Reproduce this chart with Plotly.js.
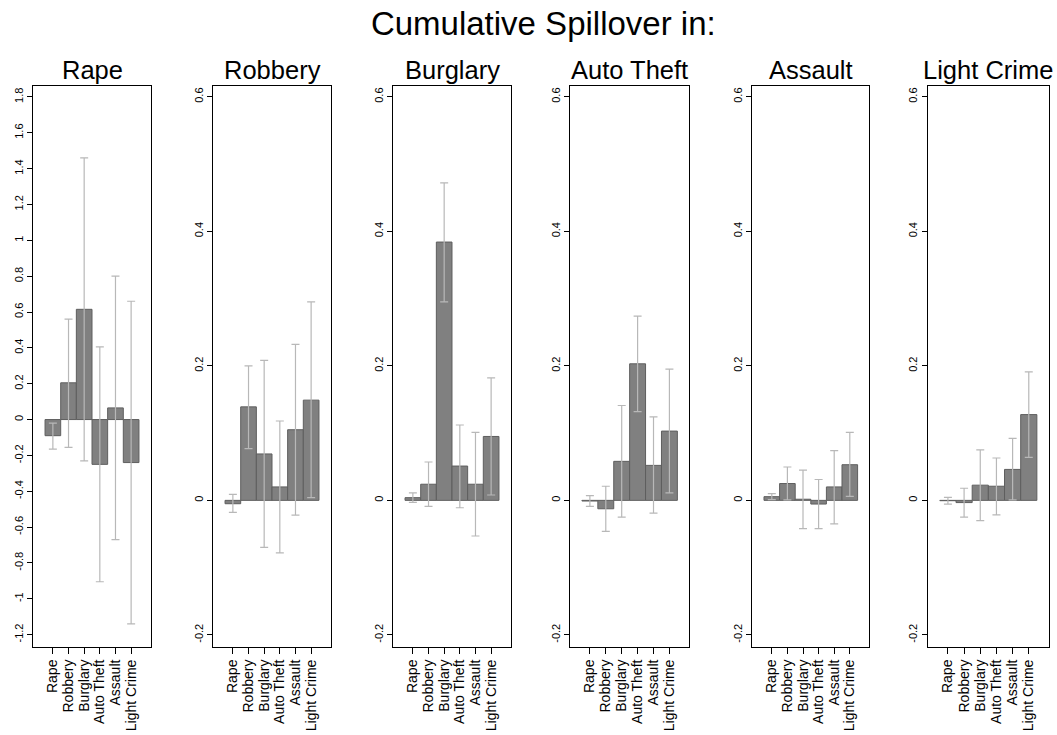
<!DOCTYPE html>
<html>
<head>
<meta charset="utf-8">
<script src="https://cdn.plot.ly/plotly-3.0.1.min.js"></script>
<style>html,body{margin:0;padding:0;background:#fff;}#chart{width:1057px;height:735px;}</style>
</head>
<body>
<div id="chart"></div>
<script>
// Categories (x axis of every panel)
const categories = ["Rape", "Robbery", "Burglary", "Auto Theft", "Assault", "Light Crime"];
// Panel titles
const panelTitles = ["Rape", "Robbery", "Burglary", "Auto Theft", "Assault", "Light Crime"];

// Panel 1: Rape
const est_rape = [-0.09, 0.205, 0.615, -0.25, 0.065, -0.24];
const lo_rape  = [-0.165, -0.155, -0.23, -0.905, -0.67, -1.14];
const hi_rape  = [-0.02, 0.56, 1.46, 0.405, 0.80, 0.66];
// Panel 2: Robbery
const est_robbery = [-0.005, 0.139, 0.069, 0.020, 0.105, 0.149];
const lo_robbery  = [-0.018, 0.077, -0.070, -0.078, -0.022, 0.004];
const hi_robbery  = [0.009, 0.200, 0.208, 0.118, 0.232, 0.295];
// Panel 3: Burglary
const est_burglary = [0.004, 0.024, 0.384, 0.051, 0.024, 0.095];
const lo_burglary  = [-0.003, -0.009, 0.295, -0.011, -0.053, 0.008];
const hi_burglary  = [0.011, 0.057, 0.472, 0.112, 0.101, 0.182];
// Panel 4: Auto Theft
const est_auto = [-0.001, -0.0125, 0.058, 0.203, 0.052, 0.103];
const lo_auto  = [-0.009, -0.046, -0.025, 0.132, -0.019, 0.011];
const hi_auto  = [0.007, 0.021, 0.141, 0.274, 0.124, 0.195];
// Panel 5: Assault
const est_assault = [0.0055, 0.025, 0.0017, -0.0055, 0.020, 0.053];
const lo_assault  = [0.001, 0.0006, -0.042, -0.042, -0.035, 0.006];
const hi_assault  = [0.010, 0.0496, 0.045, 0.031, 0.074, 0.101];
// Panel 6: Light Crime
const est_light = [-0.0005, -0.0033, 0.0226, 0.021, 0.046, 0.1275];
const lo_light  = [-0.0055, -0.025, -0.030, -0.0215, 0.0006, 0.064];
const hi_light  = [0.0044, 0.018, 0.075, 0.063, 0.092, 0.191];

// Y tick labels
const ticks_p1 = [1.8, 1.6, 1.4, 1.2, 1, 0.8, 0.6, 0.4, 0.2, 0, -0.2, -0.4, -0.6, -0.8, -1, -1.2];
const ticks_other = [0.6, 0.4, 0.2, 0, -0.2];

const panels = [
  {est: est_rape, lo: lo_rape, hi: hi_rape},
  {est: est_robbery, lo: lo_robbery, hi: hi_robbery},
  {est: est_burglary, lo: lo_burglary, hi: hi_burglary},
  {est: est_auto, lo: lo_auto, hi: hi_auto},
  {est: est_assault, lo: lo_assault, hi: hi_assault},
  {est: est_light, lo: lo_light, hi: hi_light}
];

const W = 1057;
const boxes = [[33.3, 150.7], [213.3, 330.7], [393.3, 510.7], [570, 689.3], [752.3, 869.3], [927.7, 1049]];

const FONT = "Liberation Sans, Arial, Helvetica, sans-serif";
const data = [];
const layout = {
  width: 1057, height: 735,
  margin: {l: 0, r: 0, t: 86, b: 88},
  paper_bgcolor: "#ffffff", plot_bgcolor: "#ffffff",
  showlegend: false,
  bargap: 0,
  font: {family: FONT, color: "#000"},
  title: {text: "Cumulative Spillover in:", font: {family: FONT, size: 33, color: "#000"},
          x: 0.514, xanchor: "center", y: 0.968, yanchor: "middle", yref: "container"},
  annotations: []
};

const fmt = v => String(v);

panels.forEach((p, i) => {
  const n = i + 1;
  const xa = n === 1 ? "x" : "x" + n;
  const ya = n === 1 ? "y" : "y" + n;
  data.push({
    type: "bar",
    x: categories,
    y: p.est,
    xaxis: xa, yaxis: ya,
    width: 1,
    marker: {color: "#808080", line: {color: "#5e5e5e", width: 1}},
    error_y: {
      type: "data", symmetric: false,
      array: p.hi.map((h, k) => h - p.est[k]),
      arrayminus: p.lo.map((l, k) => p.est[k] - l),
      color: "#b8b8b8", thickness: 1.2, width: 4
    },
    hoverinfo: "skip"
  });
  const tv = n === 1 ? ticks_p1 : ticks_other;
  const range = n === 1 ? [-1.269, 1.861] : [-0.218, 0.616];
  layout[n === 1 ? "xaxis" : "xaxis" + n] = {
    domain: [boxes[i][0] / W, boxes[i][1] / W],
    anchor: ya,
    type: "category",
    range: [-1.25, 6.25],
    tickmode: "array",
    tickvals: categories,
    ticktext: categories,
    showline: true, mirror: true, linecolor: "#000", linewidth: 1,
    ticks: "outside", ticklen: 6, tickcolor: "#000", tickwidth: 1,
    tickangle: -90,
    tickfont: {family: FONT, size: 14, color: "#000"},
    showgrid: false, zeroline: false, fixedrange: true
  };
  layout[n === 1 ? "yaxis" : "yaxis" + n] = {
    domain: [0, 1],
    anchor: xa,
    range: range,
    tickmode: "array",
    tickvals: tv,
    ticktext: tv.map(fmt),
    showline: true, mirror: true, linecolor: "#000", linewidth: 1,
    ticks: "outside", ticklen: 5, tickcolor: "#000", tickwidth: 1,
    tickangle: -90,
    tickfont: {family: FONT, size: 11, color: "#000"},
    showgrid: false, zeroline: false, fixedrange: true
  };
  layout.annotations.push({
    text: panelTitles[i],
    xref: "paper", yref: "paper",
    x: (boxes[i][0] + boxes[i][1]) / 2 / W, y: 1,
    xanchor: "center", yanchor: "bottom", yshift: 0,
    showarrow: false,
    font: {family: FONT, size: 25.5, color: "#000"}
  });
});

Plotly.newPlot("chart", data, layout, {displayModeBar: false, staticPlot: true});
</script>
</body>
</html>
